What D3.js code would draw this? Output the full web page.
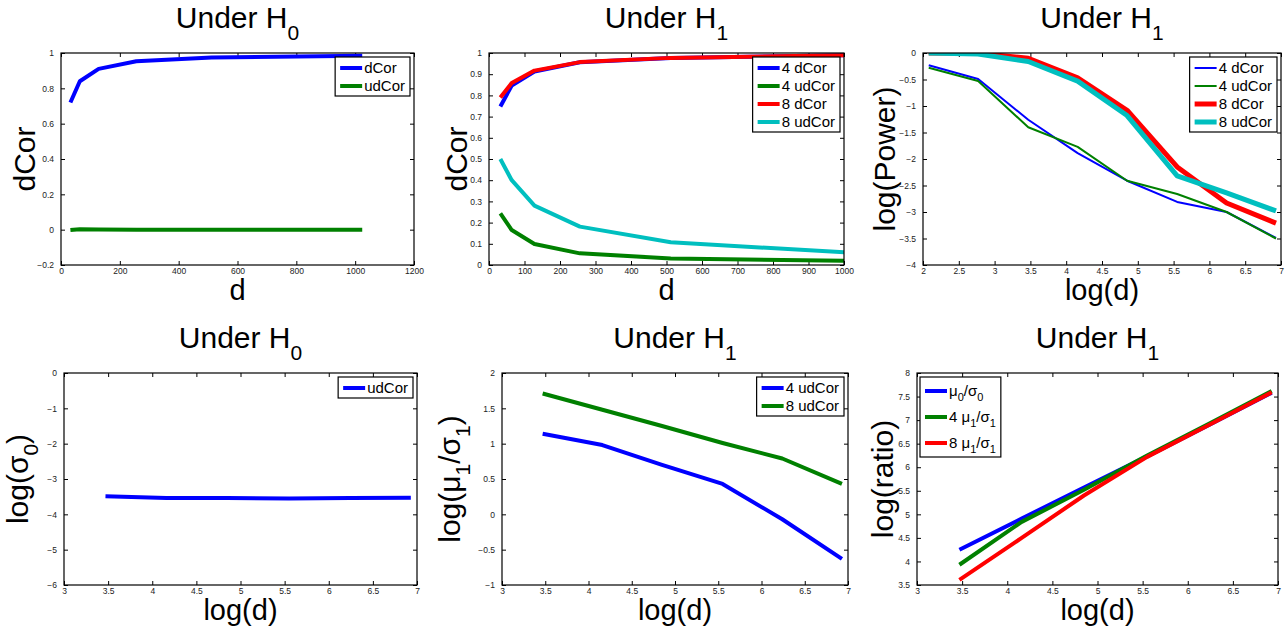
<!DOCTYPE html>
<html>
<head>
<meta charset="utf-8">
<script src="https://cdn.jsdelivr.net/npm/d3@7"></script>
<style>
body { margin: 0; background: #fff; }
svg { display: block; font-family: "Liberation Sans", Arial, sans-serif; }
</style>
</head>
<body>
<svg id="chart" width="1288" height="630"></svg>
<script>
// x values
const dLin = [32, 64, 128, 256, 512, 1024];
const logD8 = [2.08, 2.77, 3.47, 4.16, 4.85, 5.55, 6.24, 6.93];
const logD6 = [3.47, 4.16, 4.85, 5.55, 6.24, 6.93];

// top left: under H0
const h0dCor = [0.72, 0.84, 0.91, 0.953, 0.975, 0.985];
const h0udCor = [-0.002, 0.003, 0.001, 0, 0, 0];
// top middle: under H1
const h1dCor4 = [0.748, 0.846, 0.913, 0.956, 0.976, 0.99];
const h1udCor4 = [0.243, 0.165, 0.099, 0.055, 0.031, 0.019];
const h1dCor8 = [0.79, 0.858, 0.917, 0.957, 0.977, 0.99];
const h1udCor8 = [0.5, 0.4, 0.28, 0.181, 0.107, 0.058];
// top right: log(power)
const pow4dCor = [-0.23, -0.49, -1.26, -1.89, -2.41, -2.81, -3.0, -3.49];
const pow4udCor = [-0.28, -0.53, -1.4, -1.77, -2.41, -2.66, -3.0, -3.5];
const pow8dCor = [0, -0.005, -0.1, -0.47, -1.08, -2.15, -2.83, -3.21];
const pow8udCor = [0, -0.02, -0.16, -0.53, -1.18, -2.32, -2.64, -2.98];
// bottom left
const sigma0 = [-3.49, -3.54, -3.54, -3.55, -3.54, -3.53];
// bottom middle
const ratio4 = [1.14, 0.98, 0.70, 0.43, -0.07, -0.63];
const ratio8 = [1.71, 1.48, 1.25, 1.01, 0.79, 0.43];
// bottom right
const mu0sig0 = [4.25, 4.91, 5.57, 6.23, 6.90, 7.58];
const mu1sig1_4 = [3.93, 4.84, 5.52, 6.25, 6.93, 7.62];
const mu1sig1_8 = [3.61, 4.50, 5.40, 6.22, 6.90, 7.59];

// ticks
const ticksX1 = [0, 200, 400, 600, 800, 1000, 1200];
const ticksY1 = [-0.2, 0, 0.2, 0.4, 0.6, 0.8, 1];
const ticksX2 = [0, 100, 200, 300, 400, 500, 600, 700, 800, 900, 1000];
const ticksY2 = [0, 0.1, 0.2, 0.3, 0.4, 0.5, 0.6, 0.7, 0.8, 0.9, 1];
const ticksX3 = [2, 2.5, 3, 3.5, 4, 4.5, 5, 5.5, 6, 6.5, 7];
const ticksY3 = [-4, -3.5, -3, -2.5, -2, -1.5, -1, -0.5, 0];
const ticksXlog = [3, 3.5, 4, 4.5, 5, 5.5, 6, 6.5, 7];
const ticksY4 = [-6, -5, -4, -3, -2, -1, 0];
const ticksY5 = [-1, -0.5, 0, 0.5, 1, 1.5, 2];
const ticksY6 = [3.5, 4, 4.5, 5, 5.5, 6, 6.5, 7, 7.5, 8];

const BLUE = "#0000ff", GREEN = "#008000", RED = "#ff0000", CYAN = "#00bfbf";

const panels = [
  { box: [61, 414, 53, 265], title: "Under H_0", xlab: "d", ylab: "dCor", yoff: 26,
    xt: ticksX1, yt: ticksY1, legend: "ne", rowH: 18,
    series: [
      { name: "dCor", x: dLin, y: h0dCor, c: BLUE, w: 4 },
      { name: "udCor", x: dLin, y: h0udCor, c: GREEN, w: 4 }] },
  { box: [489, 844, 53, 265], title: "Under H_1", xlab: "d", ylab: "dCor", yoff: 22,
    xt: ticksX2, yt: ticksY2, legend: "ne", rowH: 18,
    series: [
      { name: "4 dCor", x: dLin, y: h1dCor4, c: BLUE, w: 4 },
      { name: "4 udCor", x: dLin, y: h1udCor4, c: GREEN, w: 4 },
      { name: "8 dCor", x: dLin, y: h1dCor8, c: RED, w: 4 },
      { name: "8 udCor", x: dLin, y: h1udCor8, c: CYAN, w: 4 }] },
  { box: [923, 1281, 53, 265], title: "Under H_1", xlab: "log(d)", ylab: "log(Power)", yoff: 28,
    xt: ticksX3, yt: ticksY3, legend: "ne", rowH: 18,
    series: [
      { name: "4 dCor", x: logD8, y: pow4dCor, c: BLUE, w: 2 },
      { name: "4 udCor", x: logD8, y: pow4udCor, c: GREEN, w: 2 },
      { name: "8 dCor", x: logD8, y: pow8dCor, c: RED, w: 5 },
      { name: "8 udCor", x: logD8, y: pow8udCor, c: CYAN, w: 5 }] },
  { box: [64, 417, 373, 585], title: "Under H_0", xlab: "log(d)", ylab: "log(σ_0)", yoff: 36,
    xt: ticksXlog, yt: ticksY4, legend: "ne", rowH: 18,
    series: [
      { name: "udCor", x: logD6, y: sigma0, c: BLUE, w: 4 }] },
  { box: [502, 848, 373, 585], title: "Under H_1", xlab: "log(d)", ylab: "log(μ_1/σ_1)", yoff: 42,
    xt: ticksXlog, yt: ticksY5, legend: "ne", rowH: 18,
    series: [
      { name: "4 udCor", x: logD6, y: ratio4, c: BLUE, w: 4 },
      { name: "8 udCor", x: logD6, y: ratio8, c: GREEN, w: 4 }] },
  { box: [917, 1278, 373, 585], title: "Under H_1", xlab: "log(d)", ylab: "log(ratio)", yoff: 24,
    xt: ticksXlog, yt: ticksY6, legend: "nw", rowH: 26,
    series: [
      { name: "μ_0/σ_0", x: logD6, y: mu0sig0, c: BLUE, w: 4 },
      { name: "4 μ_1/σ_1", x: logD6, y: mu1sig1_4, c: GREEN, w: 4 },
      { name: "8 μ_1/σ_1", x: logD6, y: mu1sig1_8, c: RED, w: 4 }] }
];

const svg = d3.select("#chart");
svg.append("rect").attr("width", 1288).attr("height", 630).attr("fill", "#fff");

// text with "_x" subscripts
function rich(sel, str, subSize, shift) {
  let prev = false;
  str.split(/(_.)/).filter(s => s.length).forEach(s => {
    const sub = s[0] === "_";
    const t = sel.append("tspan").text(sub ? s.slice(1) : s);
    if (sub && !prev) t.attr("dy", shift);
    if (!sub && prev) t.attr("dy", -shift);
    if (sub) t.attr("font-size", subSize);
    prev = sub;
  });
}

const fmt = d3.format("~g");

panels.forEach((p, i) => {
  const [x0, x1, y0, y1] = p.box;
  const x = d3.scaleLinear().domain(d3.extent(p.xt)).range([x0, x1]);
  const y = d3.scaleLinear().domain(d3.extent(p.yt)).range([y1, y0]);
  const g = svg.append("g");

  const styleAxis = a => {
    a.select(".domain").remove();
    a.selectAll(".tick line").attr("stroke", "#000");
    a.selectAll(".tick text").attr("font-family", "Liberation Sans, Arial, sans-serif")
      .attr("font-size", 8.5).attr("fill", "#222");
  };

  g.append("g").attr("transform", `translate(0,${y1})`)
    .call(d3.axisBottom(x).tickValues(p.xt).tickFormat(fmt).tickSize(-4).tickPadding(3))
    .call(styleAxis);
  g.append("g").attr("transform", `translate(0,${y0})`)
    .call(d3.axisTop(x).tickValues(p.xt).tickFormat("").tickSize(-4))
    .call(styleAxis);
  g.append("g").attr("transform", `translate(${x0},0)`)
    .call(d3.axisLeft(y).tickValues(p.yt).tickFormat(fmt).tickSize(-4).tickPadding(7))
    .call(styleAxis);
  g.append("g").attr("transform", `translate(${x1},0)`)
    .call(d3.axisRight(y).tickValues(p.yt).tickFormat("").tickSize(-4))
    .call(styleAxis);

  // clip to axes box
  const cid = "clip" + i;
  svg.append("clipPath").attr("id", cid).append("rect")
    .attr("x", x0).attr("y", y0).attr("width", x1 - x0).attr("height", y1 - y0);

  const line = d3.line().x(d => x(d[0])).y(d => y(d[1]));
  const lines = g.append("g").attr("clip-path", `url(#${cid})`);
  p.series.forEach(s => {
    lines.append("path")
      .attr("d", line(d3.zip(s.x, s.y)))
      .attr("fill", "none").attr("stroke", s.c).attr("stroke-width", s.w)
      .attr("stroke-linejoin", "round");
  });

  g.append("rect").attr("x", x0).attr("y", y0)
    .attr("width", x1 - x0).attr("height", y1 - y0)
    .attr("fill", "none").attr("stroke", "#000").attr("stroke-width", 1.2);

  // title and labels
  const title = g.append("text").attr("x", (x0 + x1) / 2).attr("y", y0 - 25)
    .attr("text-anchor", "middle").attr("font-size", 30);
  rich(title, p.title, 21, 12);

  const xl = g.append("text").attr("x", (x0 + x1) / 2).attr("y", y1 + 35)
    .attr("text-anchor", "middle").attr("font-size", 29);
  rich(xl, p.xlab, 21, 10);

  const yl = g.append("text")
    .attr("transform", `translate(${x0 - p.yoff},${(y0 + y1) / 2}) rotate(-90)`)
    .attr("text-anchor", "middle").attr("font-size", 30);
  rich(yl, p.ylab, 21, 10);

  // legend
  const lg = g.append("g");
  const bg = lg.append("rect");
  const top0 = p.rowH === 18 ? 11 : 14;
  p.series.forEach((s, k) => {
    const ry = top0 + k * p.rowH;
    lg.append("line").attr("x1", 5).attr("x2", 27).attr("y1", ry).attr("y2", ry)
      .attr("stroke", s.c).attr("stroke-width", s.w);
    const t = lg.append("text").attr("class", "lt").attr("x", 29).attr("y", ry + 5)
      .attr("font-size", 15);
    rich(t, s.name, 11, 5);
  });
  let tw = 0;
  lg.selectAll("text.lt").each(function () { tw = Math.max(tw, this.getBBox().width); });
  const lw = 29 + tw + 5;
  const lh = top0 + (p.series.length - 1) * p.rowH + (p.rowH === 18 ? 10 : 14);
  bg.attr("width", lw).attr("height", lh).attr("fill", "#fff")
    .attr("stroke", "#000").attr("stroke-width", 1.2);
  const lx = p.legend === "ne" ? x1 - 4 - lw : x0 + 3;
  lg.attr("transform", `translate(${lx},${y0 + 4})`);
});
</script>
</body>
</html>
